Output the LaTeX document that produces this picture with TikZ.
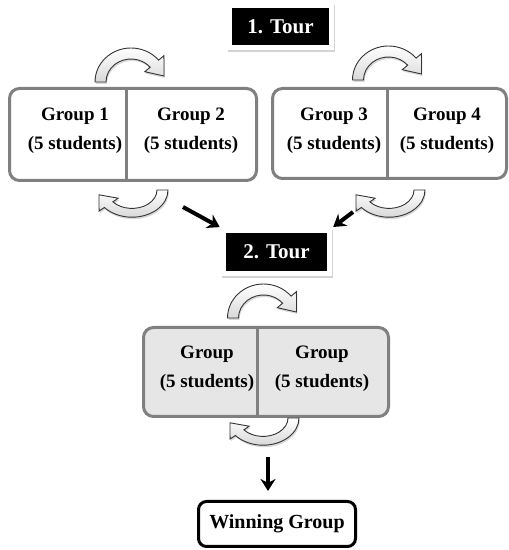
\documentclass[tikz,border=0pt]{standalone}
\usepackage{fontspec}
\setmainfont{Liberation Serif}
\usetikzlibrary{arrows.meta,positioning,fit,backgrounds,shadows}
\definecolor{framegray}{RGB}{128,128,128}
\definecolor{boxfill}{RGB}{230,230,230}

\tikzset{
  turn/.pic={
    \path[top color=white, bottom color=gray!30, draw=black!80, line width=0.9pt,
          drop shadow={opacity=0.3, shadow xshift=1pt, shadow yshift=-2pt}]
      (180:36 and 34) arc[start angle=180, end angle=40, x radius=36, y radius=34]
      -- (40:43 and 41) -- (33,6) -- (40:18 and 16) -- (40:25 and 23)
      arc[start angle=40, end angle=180, x radius=25, y radius=23] -- cycle;
  }
}

\begin{document}
\begin{tikzpicture}[x=1pt, y=1pt,
  grpframe/.style={draw=framegray, line width=3pt, rounded corners=10pt},
  grptext/.style={font=\fontsize{19}{29}\selectfont\bfseries, align=center},
  tourbox/.style={fill=black, text=white, font=\fontsize{21}{25}\selectfont\bfseries,
                  minimum width=97pt, minimum height=37pt},
  tourframe/.style={fill=white, inner sep=5pt,
                    drop shadow={opacity=0.35, shadow xshift=1pt, shadow yshift=-2pt}},
  pass/.style={-{Stealth[length=12pt, width=15pt]}, line width=4pt, shorten >=1pt}]
\useasboundingbox (0,0) rectangle (509,550);

% tours
\node[tourbox] (tour1) at (280.5,523.5) {1. Tour};
\node[tourbox, minimum width=101pt, minimum height=38pt] (tour2) at (276.5,298) {2. Tour};
\begin{scope}[on background layer]
\node[tourframe, fit=(tour1)] (tour1f) {};
\node[tourframe, fit=(tour2)] (tour2f) {};
\end{scope}

% first round
\node[grpframe, fill=white, minimum width=247pt, minimum height=92pt] (grpA) at (133,415.5) {};
\node[grpframe, fill=white, minimum width=234pt, minimum height=90pt] (grpB) at (389.5,416.5) {};
\draw[framegray, line width=3pt] ([xshift=-7pt]grpA.north) -- ([xshift=-7pt]grpA.south);
\draw[framegray, line width=3pt] ([xshift=-2.5pt]grpB.north) -- ([xshift=-2.5pt]grpB.south);
\node[grptext] (g1) at (75,419) {Group 1\\(5 students)};
\node[grptext] (g2) at (191,419) {Group 2\\(5 students)};
\node[grptext] (g3) at (334,419) {Group 3\\(5 students)};
\node[grptext] (g4) at (447,419) {Group 4\\(5 students)};
\pic at (131,468) {turn};
\pic[rotate=180, yscale=0.8] at (132,360) {turn};
\pic at (388.5,470) {turn};
\pic[rotate=180, yscale=0.8] at (389,360) {turn};

% second round
\node[grpframe, fill=boxfill, minimum width=245pt, minimum height=89pt] (grpC) at (266,178) {};
\draw[framegray, line width=3pt] ([xshift=-9pt]grpC.north) -- ([xshift=-9pt]grpC.south);
\node[grptext] (g5) at (207,181) {Group\\(5 students)};
\node[grptext] (g6) at (322,181) {Group\\(5 students)};
\pic at (263.5,232) {turn};
\pic[rotate=180, yscale=0.8] at (263,132) {turn};

% winner
\node[draw, line width=3pt, rounded corners=8pt, minimum width=157pt, minimum height=45pt,
      font=\fontsize{20}{24}\selectfont\bfseries] (win) at (277,26) {Winning Group};

\coordinate (fromA) at (183,343);
\coordinate (fromB) at (353,338);
\coordinate (fromC) at (268,93);
\draw[pass] (fromA) -- (tour2f.north west);
\draw[pass] (fromB) -- (tour2f.north east);
\draw[pass, shorten >=9pt] (fromC) -- (fromC |- win.north);
\end{tikzpicture}
\end{document}
